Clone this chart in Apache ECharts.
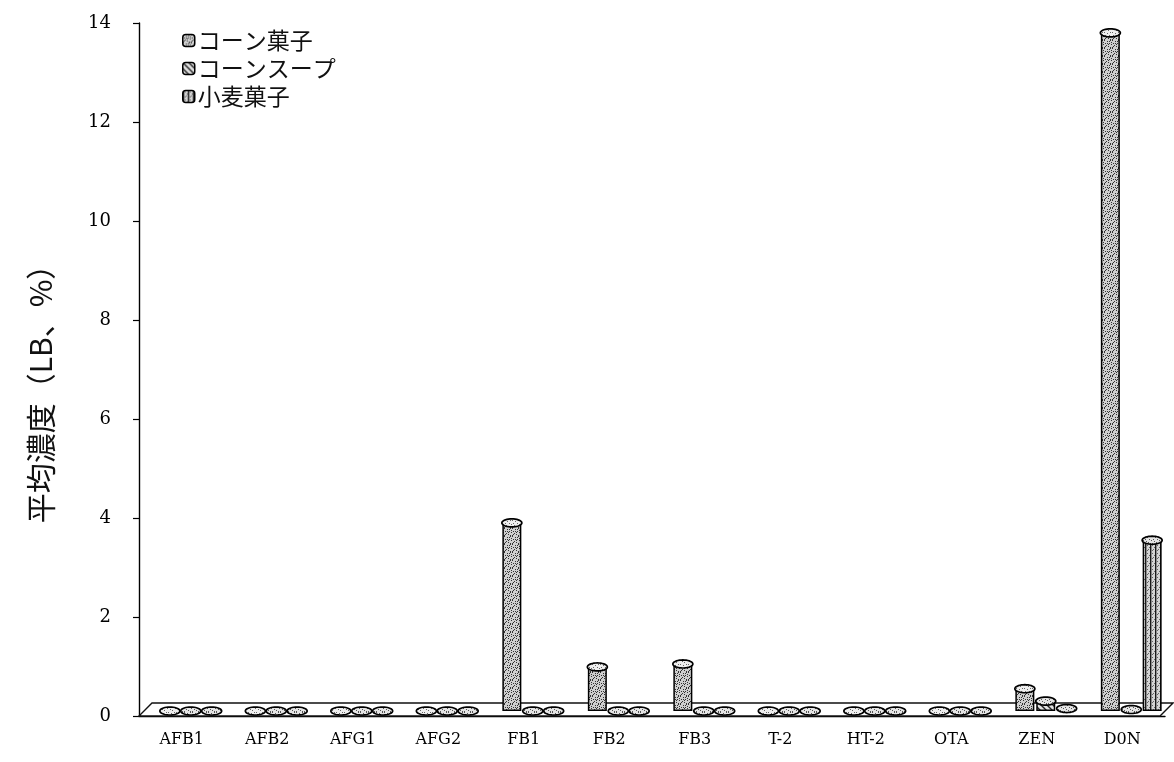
<!DOCTYPE html>
<html>
<head>
<meta charset="utf-8">
<script src="https://cdn.jsdelivr.net/npm/echarts@6/dist/echarts.min.js"></script>
<style>
html,body{margin:0;padding:0;background:#fff;}
#main{width:1174px;height:762px;}
</style>
</head>
<body>
<div id="main"></div>
<script>
// ---- data ----
var categories = ['AFB1','AFB2','AFG1','AFG2','FB1','FB2','FB3','T-2','HT-2','OTA','ZEN','D0N'];
var seriesNames = ['コーン菓子','コーンスープ','小麦菓子'];
var cornSnack  = [0, 0, 0, 0, 3.8, 0.89, 0.95, 0, 0, 0, 0.45, 13.7];
var cornSoup   = [0, 0, 0, 0, 0,   0,    0,    0, 0, 0, 0.2,  0.03];
var wheatSnack = [0, 0, 0, 0, 0,   0,    0,    0, 0, 0, 0.05, 3.45];
var yMin = 0, yMax = 14, yInterval = 2;
var yAxisName = '平均濃度（LB、%）';

// ---- layout ----
var L = 139, R = 9, T = 23, B = 46;
var depthX = 9, depthY = 5;
var barW = 19, gapRatio = 0.1;

// ---- patterns ----
function makeCanvas(w, h) { var c = document.createElement('canvas'); c.width = w; c.height = h; return c; }
var dotPts = [[0,0],[3,1],[6,0],[1,3],[5,3],[2,5],[7,4],[4,6],[0,7],[6,7],[3,3],[1,6],[5,1],[7,2],[4,4]];
function stipple(bg, dot, n) {
  var c = makeCanvas(8, 8), g = c.getContext('2d');
  g.fillStyle = bg; g.fillRect(0, 0, 8, 8);
  g.fillStyle = dot;
  dotPts.slice(0, n).forEach(function (p) { g.fillRect(p[0], p[1], 1, 1); });
  return c;
}
function hatch() {
  var c = makeCanvas(6, 6), g = c.getContext('2d');
  g.fillStyle = '#e2e2e2'; g.fillRect(0, 0, 6, 6);
  g.strokeStyle = '#222'; g.lineWidth = 1.4;
  g.beginPath();
  g.moveTo(-1, -1); g.lineTo(7, 7);
  g.moveTo(-4, 2); g.lineTo(4, 10);
  g.moveTo(2, -4); g.lineTo(10, 4);
  g.stroke();
  return c;
}
function stripes() {
  var c = makeCanvas(5, 8), g = c.getContext('2d');
  g.fillStyle = '#d4d4d4'; g.fillRect(0, 0, 5, 8);
  g.fillStyle = '#666';
  [[2,1],[3,5],[2,6],[4,3]].forEach(function (p) { g.fillRect(p[0], p[1], 1, 1); });
  g.fillStyle = '#1a1a1a'; g.fillRect(0, 0, 1.4, 8);
  return c;
}
var fills = [
  { image: stipple('#cfcfcf', '#333', 15), repeat: 'repeat' },
  { image: hatch(), repeat: 'repeat' },
  { image: stripes(), repeat: 'repeat' }
];
var topFills = [
  { image: stipple('#eeeeee', '#666', 8), repeat: 'repeat' },
  { image: stipple('#e4e4e4', '#555', 10), repeat: 'repeat' },
  { image: stipple('#e4e4e4', '#555', 10), repeat: 'repeat' }
];

var serif = 'DejaVu Serif';
var dataSets = [cornSnack, cornSoup, wheatSnack];

function ellipsePoints(cx, cy, rx, ry) {
  var pts = [];
  for (var k = 0; k < 36; k++) {
    var a = k / 36 * Math.PI * 2;
    pts.push([cx + rx * Math.cos(a), cy + ry * Math.sin(a)]);
  }
  return pts;
}

var series = [];
dataSets.forEach(function (d, i) {
  series.push({
    name: seriesNames[i], type: 'bar', xAxisIndex: 1, yAxisIndex: 1,
    data: d, barWidth: barW, barGap: (gapRatio * 100) + '%', z: 3,
    itemStyle: { color: fills[i], borderColor: '#000', borderWidth: 1.5 }
  });
});
dataSets.forEach(function (d, i) {
  series.push({
    name: seriesNames[i] + '_top', type: 'custom', xAxisIndex: 1, yAxisIndex: 1, z: 4,
    silent: true,
    data: d.map(function (v, k) { return [k, v]; }),
    renderItem: function (params, api) {
      var p = api.coord([api.value(0), api.value(1)]);
      var step = barW * (1 + gapRatio);
      var cx = p[0] + (i - 1) * step;
      return {
        type: 'polygon',
        shape: { points: ellipsePoints(cx, p[1], barW / 2 + 0.5, 4) },
        style: { fill: topFills[i], stroke: '#000', lineWidth: 1.7 }
      };
    }
  });
});

var chart = echarts.init(document.getElementById('main'));
chart.setOption({
  animation: false,
  backgroundColor: '#fff',
  legend: {
    data: seriesNames, orient: 'vertical', left: 177, top: 24,
    itemWidth: 12, itemHeight: 12, itemGap: 5,
    textStyle: { fontFamily: 'Noto Sans CJK JP', fontSize: 23, color: '#111', padding: [0, 0, 0, -2] },
    itemStyle: { borderColor: '#000', borderWidth: 1.5 }
  },
  graphic: [{
    type: 'polygon', z: 1,
    shape: { points: [[L, 762 - B], [1174 - R - 5, 762 - B], [1174 - 1, 762 - B - 13], [L + 13, 762 - B - 13]] },
    style: { fill: '#fff', stroke: '#111', lineWidth: 1.4 }
  }],
  grid: [
    { left: L, right: R, top: T, bottom: B },
    { left: L + depthX, right: R - depthX, top: T - depthY, bottom: B + depthY }
  ],
  xAxis: [
    {
      type: 'category', gridIndex: 0, data: categories,
      axisLine: { lineStyle: { color: '#000', width: 1.4 } },
      axisTick: { length: 7, lineStyle: { color: '#000', width: 1.2 } },
      axisLabel: { fontFamily: serif, fontSize: 16, color: '#000', margin: 16 }
    },
    { type: 'category', gridIndex: 1, data: categories, show: false }
  ],
  yAxis: [
    {
      type: 'value', gridIndex: 0, min: yMin, max: yMax, interval: yInterval,
      name: yAxisName, nameLocation: 'middle', nameGap: 83,
      nameTextStyle: { fontFamily: 'Noto Sans CJK JP', fontSize: 30, color: '#111', padding: [0, 34, 0, 0] },
      axisLine: { show: true, lineStyle: { color: '#000', width: 1.4 } },
      axisTick: { show: true, length: 6, lineStyle: { color: '#000', width: 1.2 } },
      axisLabel: { fontFamily: serif, fontSize: 18, color: '#000', margin: 28 },
      splitLine: { show: false }
    },
    { type: 'value', gridIndex: 1, min: yMin, max: yMax, interval: yInterval, show: false, splitLine: { show: false } }
  ],
  series: series
});
</script>
</body>
</html>
